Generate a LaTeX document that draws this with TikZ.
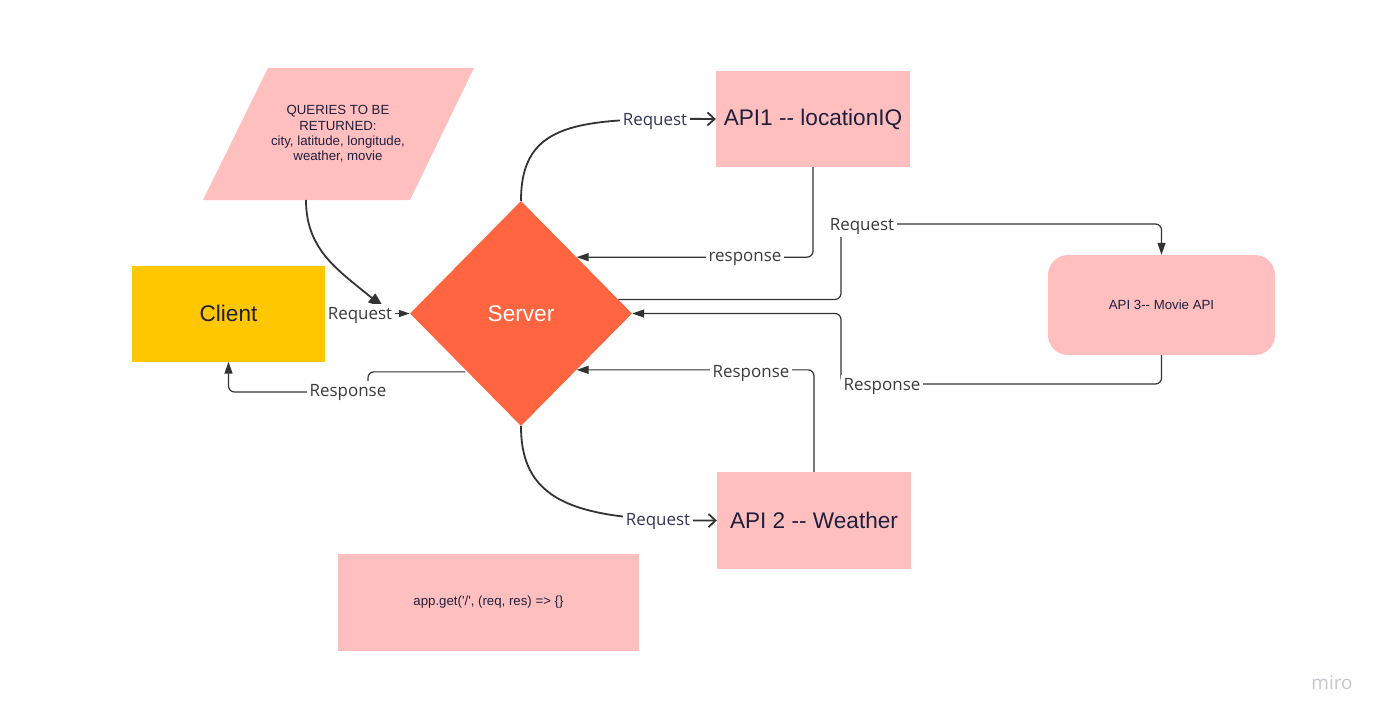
\documentclass[tikz,border=0pt]{standalone}
\usepackage{fontspec}
\setmainfont{Liberation Sans}[Ligatures=TeXOff]
\newfontfamily\lblfont{Open Sans}
\usetikzlibrary{shapes.geometric,arrows.meta,calc}
\definecolor{boxpink}{HTML}{FFBFBF}
\definecolor{clientyellow}{HTML}{FFC700}
\definecolor{serverorange}{HTML}{FF6540}
\definecolor{navytext}{HTML}{1F1F3D}
\definecolor{linegray}{HTML}{333333}
\definecolor{lblgray}{HTML}{3A3A3A}
\definecolor{curvenavy}{HTML}{34345A}
\definecolor{mirogray}{HTML}{C5C6D0}

\begin{document}
\begin{tikzpicture}[x=1bp,y=-1bp,
  box/.style={fill=boxpink,text=navytext,inner sep=0pt,
    minimum width=194bp,minimum height=96bp,font=\fontsize{22.7}{27}\selectfont},
  small/.style={text=navytext,align=center,font=\fontsize{13.3}{15.5}\selectfont},
  lbl/.style={fill=white,inner sep=2.5bp,yshift=-2bp,text=lblgray,font=\lblfont\fontsize{17}{20}\selectfont},
  curvelbl/.style={lbl,text=curvenavy},
  link/.style={draw=linegray,line width=1.2bp,rounded corners=6bp,
    -{Triangle[length=12bp,width=8bp]}},
  curveline/.style={draw=linegray,line width=1.8bp},
]
  \fill[white] (0,0) rectangle (1386,721);
  \useasboundingbox (0,0) rectangle (1386,721);

  % shapes
  \fill[boxpink] (268,68) -- (474,68) -- (410,200) -- (203,200) -- cycle;
  \node[small] (query) at (338,134) {QUERIES TO BE\\RETURNED:\\city, latitude, longitude,\\weather, movie};
  \node[box,fill=clientyellow,minimum width=193bp] (client) at (228.5,313.5) {Client};
  \node[diamond,fill=serverorange,text=white,inner sep=0pt,minimum width=222bp,
    minimum height=225bp,font=\fontsize{22.7}{27}\selectfont] (server) at (521,313.5) {Server};
  \node[box] (api1) at (813,119) {API1 -- locationIQ};
  \node[box,minimum height=97bp] (api2) at (814,520.5) {API 2 -- Weather};
  \node[box,small,minimum width=227bp,minimum height=100bp,rounded corners=20bp] (api3)
    at (1161.5,305) {API 3-- Movie API};
  \node[box,small,minimum width=301bp,minimum height=97bp] (appget) at (488.5,602.5)
    {app.get('/', (req, res) => \{\}};

  % connectors
  \coordinate (qout) at (306,200);
  \coordinate (qin) at (384,308);
  \draw[curveline,-{Triangle[length=16bp,width=11bp]}] (qout) .. controls (306,250) and (338,270) .. (qin);
  \draw[link,-{Triangle[length=11bp,width=7bp]}] (client.east) -- (server.west);
  \draw[link] ([yshift=-2bp]server.south west) -| (368,392) -| (client.south);
  \draw[curveline,-{Straight Barb[length=7bp,width=13bp]}] (server.north) .. controls (521,120) and (580,118) .. (api1.west);
  \draw[curveline,-{Straight Barb[length=7bp,width=13bp]}] (server.south) .. controls (521,505) and (580,521) .. (api2.west);
  \draw[link] (api1.south) |- (server.north east);
  \draw[link] ($(server.north east)!0.75!(server.east)$) -| (841,224) -| (api3.north);
  \draw[link] (api3.south) |- (841,384) |- (server.east);
  \draw[link] (api2.north) |- (server.south east);

  % labels
  \node[lbl] (reqclient) at (360,313) {Request};
  \node[lbl] (respclient) at (348,390) {Response};
  \node[curvelbl] (reqapi1) at (655,119) {Request};
  \node[curvelbl] (reqapi2) at (658,519) {Request};
  \node[lbl] (respapi1) at (745,257) {response};
  \node[lbl] (reqapi3) at (862,224) {Request};
  \node[lbl] (respapi3) at (882,384) {Response};
  \node[lbl] (respapi2) at (751,371) {Response};

  \node[text=mirogray,font=\lblfont\fontsize{19}{20}\selectfont] (miro) at (1332,683) {miro};
\end{tikzpicture}
\end{document}
